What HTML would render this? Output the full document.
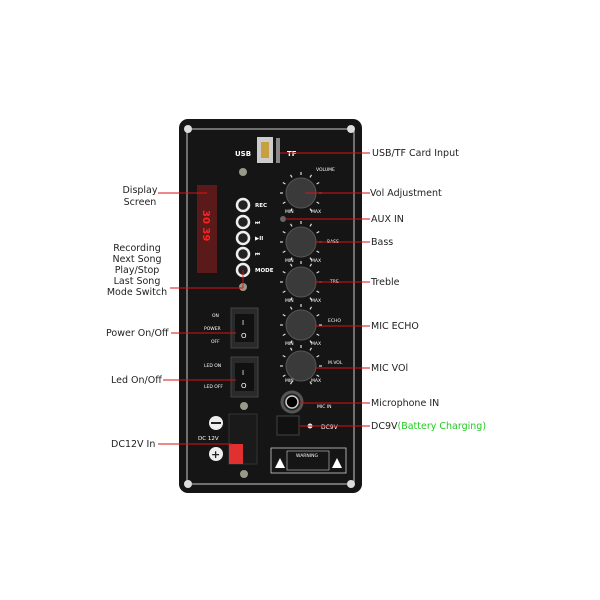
<!DOCTYPE html><html><head><style>body{margin:0;background:#fff}svg{display:block}</style></head><body>
<svg width="600" height="600" viewBox="0 0 600 600" font-family="DejaVu Sans, sans-serif">
<defs><g id="ticks" stroke="#ddd" stroke-width="1.2"><line x1="0" y1="-18" x2="0" y2="-21"/><line x1="0" y1="-18" x2="0" y2="-21" transform="rotate(30)"/><line x1="0" y1="-18" x2="0" y2="-21" transform="rotate(60)"/><line x1="0" y1="-18" x2="0" y2="-21" transform="rotate(90)"/><line x1="0" y1="-18" x2="0" y2="-21" transform="rotate(120)"/><line x1="0" y1="-18" x2="0" y2="-21" transform="rotate(150)"/><line x1="0" y1="-18" x2="0" y2="-21" transform="rotate(-30)"/><line x1="0" y1="-18" x2="0" y2="-21" transform="rotate(-60)"/><line x1="0" y1="-18" x2="0" y2="-21" transform="rotate(-90)"/><line x1="0" y1="-18" x2="0" y2="-21" transform="rotate(-120)"/><line x1="0" y1="-18" x2="0" y2="-21" transform="rotate(-150)"/></g></defs>
<rect x="179" y="119" width="183" height="374" rx="9" fill="#151515"/>
<rect x="187" y="129" width="167" height="355" fill="none" stroke="#ccc" stroke-width="1"/>
<g fill="#ddd"><circle cx="188" cy="129" r="4"/><circle cx="351" cy="129" r="4"/><circle cx="188" cy="484" r="4"/><circle cx="351" cy="484" r="4"/></g>
<rect x="257" y="137" width="16" height="26" fill="#ccc"/><rect x="261" y="142" width="8" height="16" fill="#c9a040"/>
<rect x="276" y="138" width="4" height="25" fill="#888"/>
<g fill="#fff" font-size="7" font-weight="bold"><text x="235" y="156">USB</text><text x="287" y="156">TF</text></g>
<circle cx="243" cy="172" r="4" fill="#998"/>
<rect x="197" y="185" width="20" height="88" fill="#5a1a1a"/>
<text font-size="10" fill="#f22" font-weight="bold" transform="translate(203,210) rotate(90)">30 39</text>
<g fill="#222" stroke="#eee" stroke-width="2.5">
<circle cx="243" cy="205" r="6"/><circle cx="243" cy="222" r="6"/><circle cx="243" cy="238" r="6"/><circle cx="243" cy="254" r="6"/><circle cx="243" cy="270" r="6"/></g>
<g fill="#fff" font-size="5.5" font-weight="bold"><text x="255" y="207">REC</text><text x="255" y="224">⏭</text><text x="255" y="240">▶II</text><text x="255" y="256">⏮</text><text x="255" y="272">MODE</text></g>
<circle cx="243" cy="287" r="4" fill="#998"/>
<use href="#ticks" x="301" y="193"/><use href="#ticks" x="301" y="242"/><use href="#ticks" x="301" y="282"/><use href="#ticks" x="301" y="325"/><use href="#ticks" x="301" y="366"/>
<g fill="#3a3a3a" stroke="#555">
<circle cx="301" cy="193" r="15"/><circle cx="301" cy="242" r="15"/><circle cx="301" cy="282" r="15"/><circle cx="301" cy="325" r="15"/><circle cx="301" cy="366" r="15"/></g>
<g fill="#fff" font-size="4.5"><text x="316" y="171">VOLUME</text><text x="285" y="213">MIN</text><text x="311" y="213">MAX</text>
<text x="327" y="243">BASS</text><text x="285" y="262">MIN</text><text x="311" y="262">MAX</text>
<text x="330" y="283">TRE</text><text x="285" y="302">MIN</text><text x="311" y="302">MAX</text>
<text x="328" y="322">ECHO</text><text x="285" y="345">MIN</text><text x="311" y="345">MAX</text>
<text x="328" y="364">M.VOL</text><text x="285" y="382">MIN</text><text x="311" y="382">MAX</text>
<text x="317" y="408">MIC IN</text></g>
<circle cx="283" cy="219" r="3" fill="#666"/>
<g fill="#fff" font-size="4.5"><text x="212" y="317">ON</text><text x="204" y="330">POWER</text><text x="211" y="343">OFF</text><text x="204" y="367">LED ON</text><text x="204" y="388">LED OFF</text></g>
<rect x="231" y="308" width="27" height="40" fill="#2a2a2a" stroke="#444"/><rect x="235" y="314" width="19" height="28" fill="#111"/>
<rect x="231" y="357" width="27" height="40" fill="#2a2a2a" stroke="#444"/><rect x="235" y="363" width="19" height="28" fill="#111"/>
<g fill="#fff" font-size="7"><text x="242" y="325">I</text><text x="241" y="338">O</text><text x="242" y="375">I</text><text x="241" y="388">O</text></g>
<circle cx="292" cy="402" r="10" fill="#222" stroke="#555" stroke-width="3"/><circle cx="292" cy="402" r="6" fill="#000" stroke="#ccc" stroke-width="1.5"/>
<rect x="277" y="416" width="22" height="19" fill="#111" stroke="#444"/><circle cx="310" cy="426" r="2.5" fill="#eee"/>
<text x="321" y="429" fill="#fff" font-size="6">DC9V</text>
<circle cx="244" cy="406" r="4" fill="#998"/><circle cx="244" cy="474" r="4" fill="#998"/>
<circle cx="216" cy="423" r="7" fill="#eee"/><rect x="211" y="422" width="10" height="2" fill="#222"/>
<circle cx="216" cy="454" r="7" fill="#eee"/><text x="211" y="458" font-size="11" font-weight="bold" fill="#222">+</text>
<rect x="229" y="414" width="28" height="50" fill="#1a1a1a" stroke="#333"/><rect x="229" y="444" width="14" height="20" fill="#e03030"/>
<text x="198" y="440" fill="#fff" font-size="5.5">DC 12V</text>
<rect x="271" y="448" width="75" height="25" fill="none" stroke="#ccc" stroke-width="0.8"/>
<rect x="287" y="451" width="42" height="19" fill="none" stroke="#ccc" stroke-width="0.6"/>
<text x="296" y="457" fill="#fff" font-size="4.5">WARNING</text>
<path d="M275 468l5-10 5 10z M332 468l5-10 5 10z" fill="#fff"/>
<g stroke="#d11" stroke-width="0.9">
<line x1="280" y1="153" x2="370" y2="153"/><line x1="305" y1="193" x2="370" y2="193"/><line x1="285" y1="219" x2="370" y2="219"/>
<line x1="315" y1="242" x2="370" y2="242"/><line x1="315" y1="282" x2="370" y2="282"/><line x1="315" y1="326" x2="370" y2="326"/>
<line x1="315" y1="368" x2="370" y2="368"/><line x1="300" y1="403" x2="370" y2="403"/><line x1="300" y1="426" x2="370" y2="426"/>
<line x1="158" y1="193" x2="207" y2="193"/><line x1="170" y1="288" x2="243" y2="288"/><line x1="243" y1="270" x2="243" y2="288"/>
<line x1="171" y1="333" x2="236" y2="333"/><line x1="163" y1="380" x2="236" y2="380"/><line x1="158" y1="444" x2="232" y2="444"/>
</g>
<g fill="#222" font-size="9.5">
<text x="372" y="156">USB/TF Card Input</text><text x="370" y="196">Vol Adjustment</text><text x="371" y="222">AUX IN</text>
<text x="371" y="245">Bass</text><text x="371" y="285">Treble</text><text x="371" y="329">MIC ECHO</text><text x="371" y="371">MIC VOl</text>
<text x="371" y="406">Microphone IN</text><text x="371" y="429">DC9V<tspan fill="#2c2">(Battery Charging)</tspan></text>
<g text-anchor="middle"><text x="140" y="193">Display</text><text x="140" y="205">Screen</text>
<text x="137" y="251">Recording</text><text x="137" y="262">Next Song</text><text x="137" y="273">Play/Stop</text><text x="137" y="284">Last Song</text><text x="137" y="295">Mode Switch</text></g>
<text x="106" y="336">Power On/Off</text><text x="111" y="383">Led On/Off</text><text x="111" y="447">DC12V In</text>
</g>
</svg></body></html>
